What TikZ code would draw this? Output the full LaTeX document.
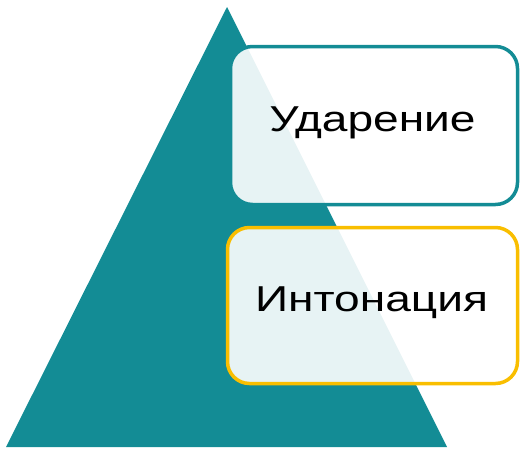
\documentclass[tikz,border=0pt]{standalone}
\usepackage{fontspec}
\setmainfont{Liberation Sans}
\definecolor{teal1}{RGB}{19,140,149}
\definecolor{gold1}{RGB}{249,190,0}
\tikzset{
  levelbox/.style={rounded corners=22pt, line width=3.5pt, fill=white, fill opacity=0.9,
    inner sep=0pt},
  leveltext/.style={anchor=base, inner sep=0pt, font=\fontsize{36}{42}\selectfont}
}
\newcommand{\widetext}[1]{\scalebox{1.28}[1]{#1}}
\begin{document}
\begin{tikzpicture}[x=1pt, y=-1pt]

  % --- frame ---
  \useasboundingbox (0,0) rectangle (521,453);

  % --- pyramid ---
  \fill[teal1] (227,7) -- (447,447) -- (6,447) -- cycle;

  % --- levels ---
  \node[levelbox, draw=teal1, minimum width=287pt, minimum height=158pt] (udarenie) at (374,125.5) {};
  \node[levelbox, draw=gold1, minimum width=290pt, minimum height=156pt] (intonacija) at (372.5,305.5) {};

  % --- texts ---
  \node[leveltext] (t1) at (372.5,131.5) {\widetext{Ударение}};
  \node[leveltext] (t2) at (371.5,311.5) {\widetext{Интонация}};

\end{tikzpicture}
\end{document}
